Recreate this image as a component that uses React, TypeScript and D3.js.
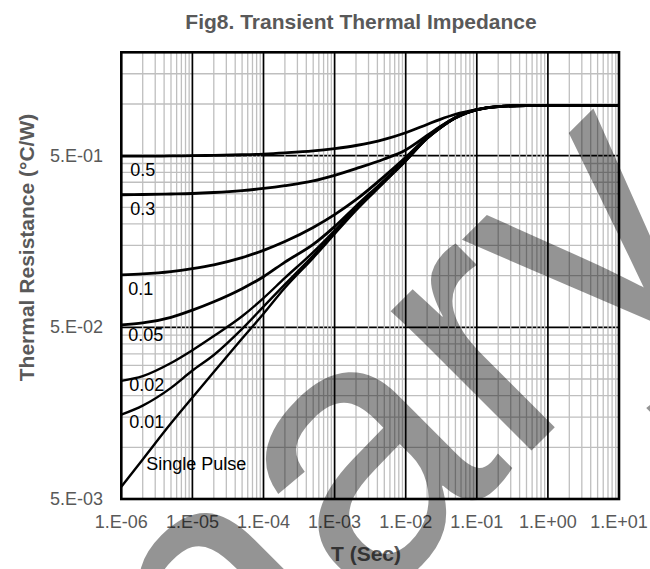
import React from "react";
import * as d3 from "d3";

// ---- data ----
const TIMES = [1e-6, 2e-6, 5e-6, 1e-5, 2e-5, 5e-5, 1e-4, 2e-4, 5e-4, 1e-3, 2e-3, 5e-3, 1e-2, 2e-2, 3e-2, 5e-2, 1e-1, 2e-1, 5e-1, 1, 10];

const D_05 = [0.497, 0.497, 0.498, 0.5, 0.502, 0.506, 0.511, 0.519, 0.533, 0.55, 0.573, 0.622, 0.68, 0.76, 0.811, 0.871, 0.927, 0.965, 0.98, 0.98, 0.98];
const D_03 = [0.296, 0.297, 0.299, 0.301, 0.305, 0.313, 0.322, 0.334, 0.356, 0.384, 0.42, 0.478, 0.54, 0.655, 0.735, 0.83, 0.926, 0.965, 0.98, 0.98, 0.98];
const D_01 = [0.101, 0.1024, 0.1057, 0.11, 0.1157, 0.1274, 0.1404, 0.158, 0.1907, 0.2266, 0.2768, 0.3787, 0.489, 0.64, 0.73, 0.835, 0.927, 0.966, 0.98, 0.98, 0.98];
const D_005 = [0.0517, 0.053, 0.0572, 0.063, 0.0705, 0.084, 0.0985, 0.12, 0.152, 0.193, 0.254, 0.36, 0.475, 0.635, 0.725, 0.832, 0.926, 0.965, 0.98, 0.98, 0.98];
const D_002 = [0.0244, 0.026, 0.031, 0.0368, 0.0445, 0.058, 0.074, 0.097, 0.137, 0.183, 0.248, 0.355, 0.47, 0.632, 0.722, 0.83, 0.925, 0.965, 0.98, 0.98, 0.98];
const D_001 = [0.0155, 0.0175, 0.0222, 0.028, 0.0345, 0.049, 0.066, 0.089, 0.131, 0.178, 0.243, 0.352, 0.467, 0.63, 0.72, 0.83, 0.925, 0.965, 0.98, 0.98, 0.98];
const SINGLE = [0.0059, 0.0085, 0.0138, 0.0195, 0.0275, 0.043, 0.06, 0.085, 0.127, 0.175, 0.24, 0.35, 0.465, 0.628, 0.72, 0.83, 0.925, 0.965, 0.98, 0.98, 0.98];

const SERIES_LABELS = ["0.5", "0.3", "0.1", "0.05", "0.02", "0.01", "Single Pulse"];
const SERIES_VALUES = [D_05, D_03, D_01, D_005, D_002, D_001, SINGLE];

const X_TICKS = [1e-6, 1e-5, 1e-4, 1e-3, 1e-2, 1e-1, 1, 10];
const X_TICK_LABELS = ["1.E-06", "1.E-05", "1.E-04", "1.E-03", "1.E-02", "1.E-01", "1.E+00", "1.E+01"];
const Y_TICKS = [0.005, 0.05, 0.5];
const Y_TICK_LABELS = ["5.E-03", "5.E-02", "5.E-01"];
const Y_MIN = 0.005;
const Y_MAX = 2;

const TITLE = "Fig8. Transient Thermal Impedance";
const X_TITLE = "T (Sec)";
const Y_TITLE = "Thermal Resistance (°C/W)";
const WATERMARK = "Preliminary";

const W = 650;
const H = 569;
const FONT = "'Liberation Sans', Arial, Helvetica, sans-serif";
const GRAY_TEXT = "#595959";

export default function App() {
  const x = d3.scaleLog().domain([1e-6, 10]).range([121.3, 619]);
  const y = d3.scaleLog().domain([Y_MIN, Y_MAX]).range([499, 52.3]);
  const [x0, x1] = x.range();
  const [yb, yt] = y.range();

  const xMinor: number[] = [];
  for (let d = -6; d <= 0; d++) for (let k = 2; k <= 9; k++) xMinor.push(k * Math.pow(10, d));
  const xMajorInner = X_TICKS.slice(1, -1);
  const yMinor: number[] = [];
  for (const b of Y_TICKS) for (let k = 2; k <= 9; k++) { const v = k * b; if (v < Y_MAX * 0.999) yMinor.push(v); }
  const yMajorInner = Y_TICKS.slice(1);

  const line = d3
    .line<[number, number]>()
    .x((d) => x(d[0]))
    .y((d) => y(d[1]))
    .curve(d3.curveMonotoneX);

  const labelOffsets = [
    { dx: 9, dy: 14 },
    { dx: 9, dy: 14 },
    { dx: 7, dy: 14 },
    { dx: 7, dy: 10 },
    { dx: 8, dy: 4 },
    { dx: 8, dy: 7 },
    { dx: 25, dy: -23 },
  ];

  // watermark: end of the word anchored here, rotated -45 degrees
  const wmX = 734;
  const wmY = 248;

  return (
    <div style={{ position: "fixed", left: 0, top: 0 }}>
      <svg width={W} height={H} viewBox={`0 0 ${W} ${H}`} style={{ display: "block", background: "#fff" }} fontFamily={FONT}>
        <rect x={0} y={0} width={W} height={H} fill="#fff" />
        {yMinor.map((v, i) => (
          <line key={"hm" + i} x1={x0} x2={x1} y1={y(v)} y2={y(v)} stroke="#bfbfbf" strokeWidth={1.3} />
        ))}
        {yMajorInner.map((v, i) => (
          <line key={"hM" + i} x1={x0} x2={x1} y1={y(v)} y2={y(v)} stroke="#000" strokeWidth={1.7} />
        ))}
        {xMinor.map((v, i) => (
          <line key={"vm" + i} x1={x(v)} x2={x(v)} y1={yb} y2={yt} stroke="#bfbfbf" strokeWidth={1.3} />
        ))}
        {xMajorInner.map((v, i) => (
          <line key={"vM" + i} x1={x(v)} x2={x(v)} y1={yb} y2={yt} stroke="#000" strokeWidth={1.7} />
        ))}
        <rect x={x0} y={yt} width={x1 - x0} height={yb - yt} fill="none" stroke="#000" strokeWidth={2.6} />

        {SERIES_VALUES.map((vals, i) => (
          <path
            key={"c" + i}
            d={line(TIMES.map((t, j) => [t, vals[j]] as [number, number])) || ""}
            fill="none"
            stroke="#000"
            strokeWidth={i >= 4 ? 2.4 : 2.8}
          />
        ))}

        {SERIES_LABELS.map((lab, i) => (
          <text
            key={"l" + i}
            x={x(TIMES[0]) + labelOffsets[i].dx}
            y={y(SERIES_VALUES[i][0]) + labelOffsets[i].dy}
            fontSize={18}
            fill="#000"
            dominantBaseline="central"
          >
            {lab}
          </text>
        ))}

        {X_TICKS.map((v, i) => (
          <text key={"xt" + i} x={x(v)} y={528} fontSize={18} fill={GRAY_TEXT} textAnchor="middle">
            {X_TICK_LABELS[i]}
          </text>
        ))}
        {Y_TICKS.map((v, i) => (
          <text key={"yt" + i} x={103} y={y(v)} fontSize={18} fill={GRAY_TEXT} textAnchor="end" dominantBaseline="central">
            {Y_TICK_LABELS[i]}
          </text>
        ))}

        <text x={361} y={28.5} fontSize={21} fontWeight="bold" fill={GRAY_TEXT} textAnchor="middle">
          {TITLE}
        </text>
        <text x={366} y={561} fontSize={21} fontWeight="bold" fill={GRAY_TEXT} textAnchor="middle">
          {X_TITLE}
        </text>
        <text transform={`translate(34,247.5) rotate(-90)`} fontSize={21} fontWeight="bold" fill={GRAY_TEXT} textAnchor="middle">
          {Y_TITLE}
        </text>

        <text
          transform={`translate(${wmX},${wmY}) rotate(-45)`}
          fontSize={375}
          fill="#000"
          fillOpacity={0.42}
          textAnchor="end"
        >
          {WATERMARK}
        </text>
      </svg>
    </div>
  );
}
